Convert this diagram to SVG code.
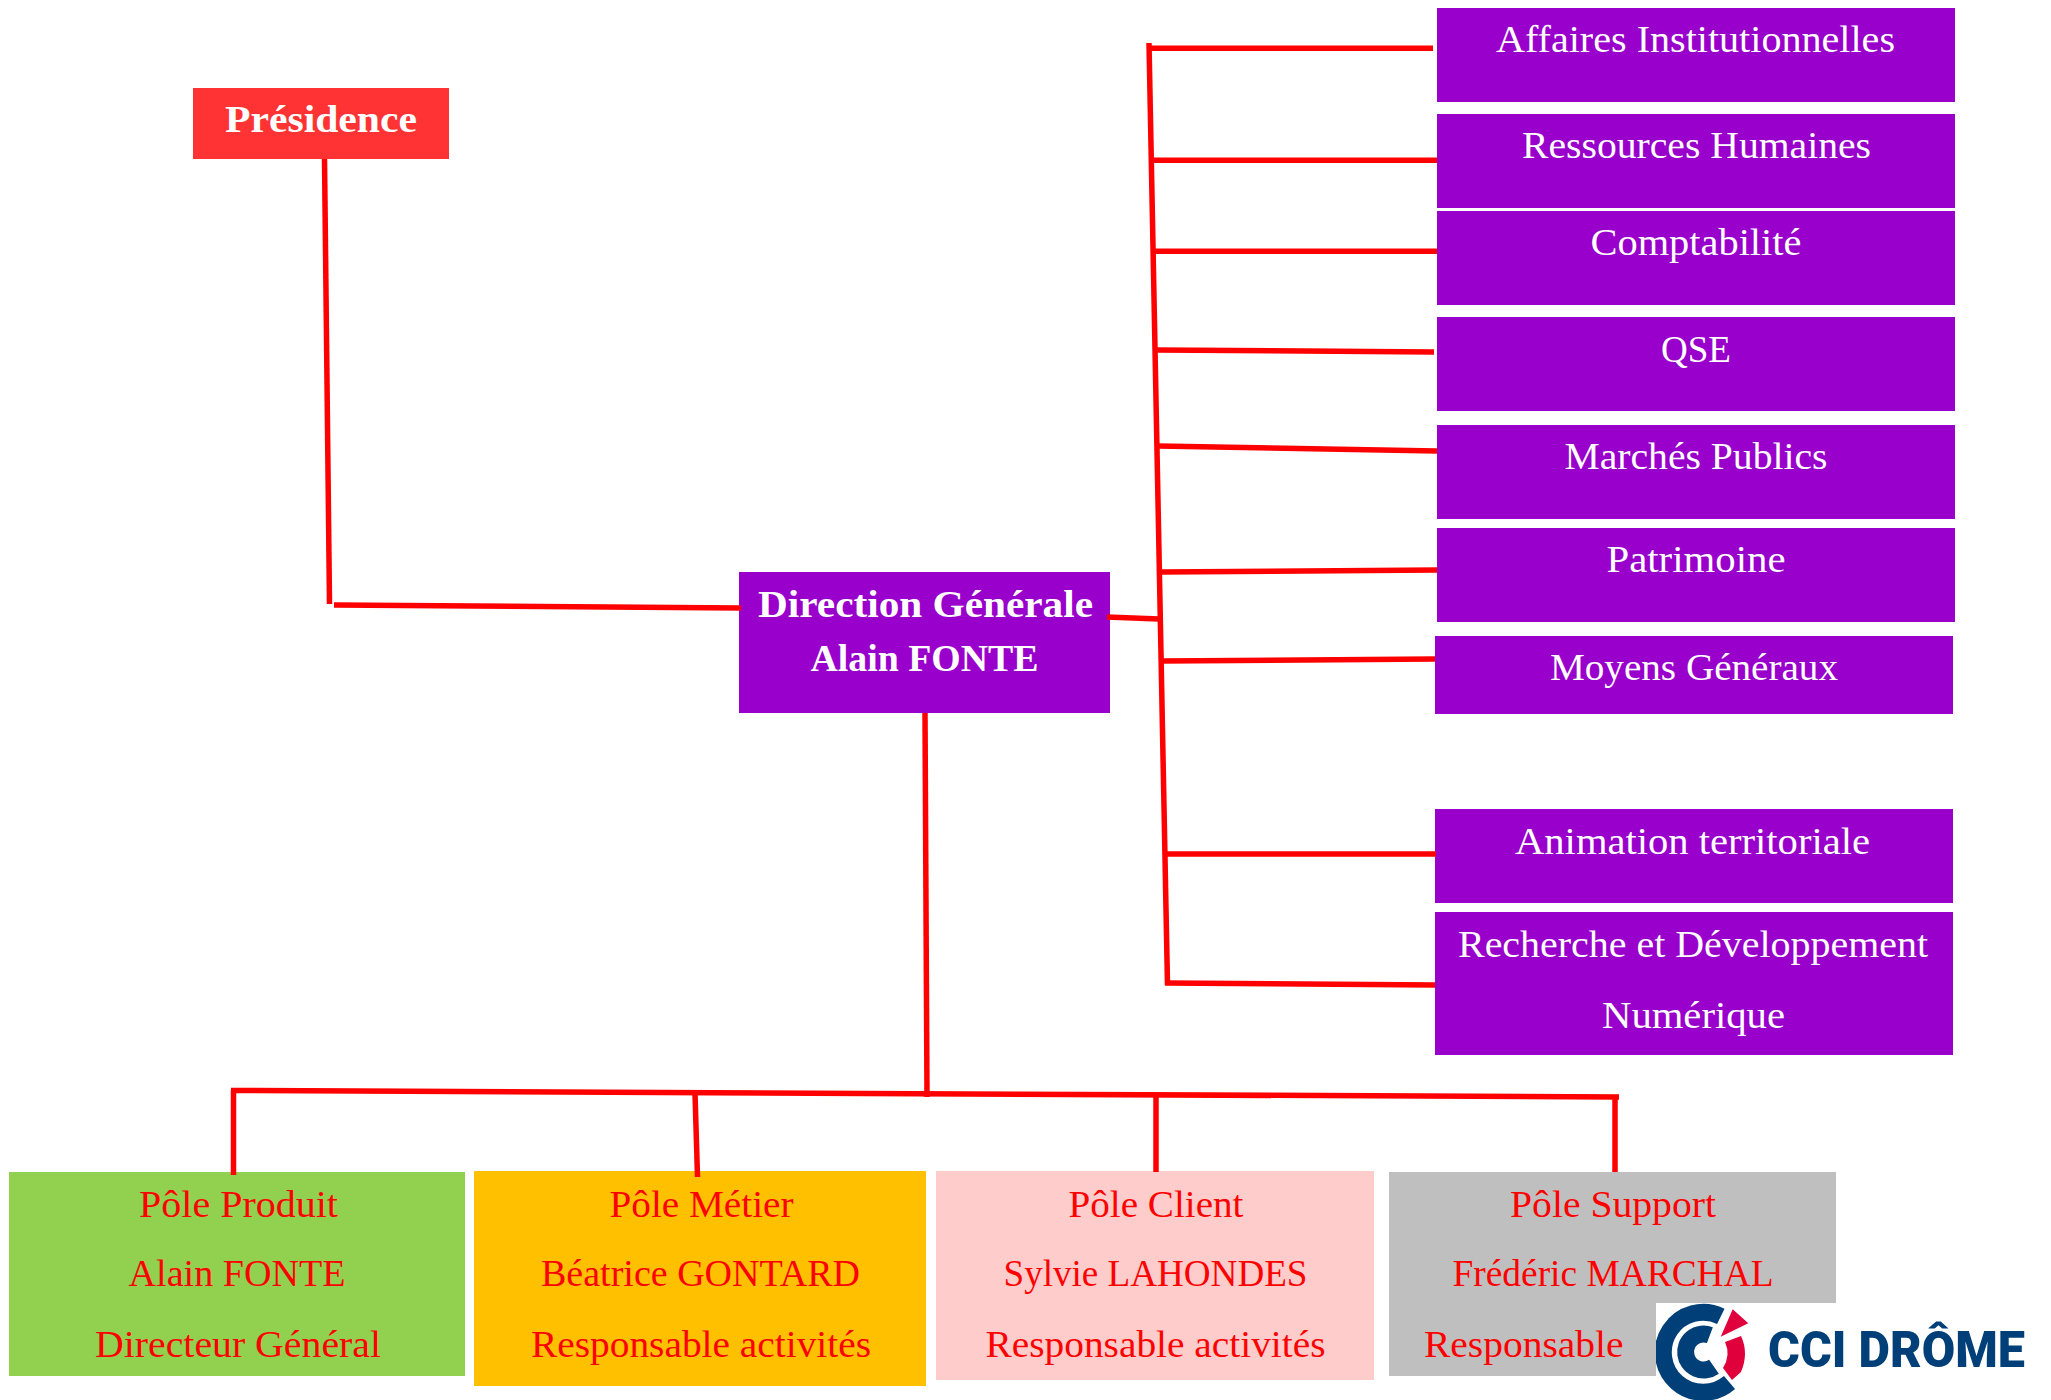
<svg xmlns="http://www.w3.org/2000/svg" width="2051" height="1400" viewBox="0 0 2051 1400">
<style>
text{font-family:"Liberation Serif","Times New Roman",serif;font-size:38px}
.w{fill:#fff}.r{fill:#f00}.b{font-weight:bold}
.p{fill:#90c}
.c line{stroke:#f00;stroke-width:5.5;fill:none}
</style>
<rect width="2051" height="1400" fill="#fff"/>
<g id="node-presidence"><rect x="193" y="88" width="256" height="71" fill="#f33"/><text class="w b" x="225" y="131.5" textLength="192" lengthAdjust="spacingAndGlyphs">Présidence</text></g>
<g id="node-direction"><rect class="p" x="739" y="572" width="371" height="141"/><text class="w b" x="758" y="617" textLength="335" lengthAdjust="spacingAndGlyphs">Direction Générale</text><text class="w b" x="810.5" y="671" textLength="228" lengthAdjust="spacingAndGlyphs">Alain FONTE</text></g>
<g id="node-affaires"><rect class="p" x="1437" y="8" width="518" height="94"/><text class="w" x="1496" y="52" textLength="399" lengthAdjust="spacingAndGlyphs">Affaires Institutionnelles</text></g>
<g id="node-rh"><rect class="p" x="1437" y="114" width="518" height="94"/><text class="w" x="1522" y="158" textLength="349" lengthAdjust="spacingAndGlyphs">Ressources Humaines</text></g>
<g id="node-compta"><rect class="p" x="1437" y="211" width="518" height="94"/><text class="w" x="1590.5" y="255" textLength="211" lengthAdjust="spacingAndGlyphs">Comptabilité</text></g>
<g id="node-qse"><rect class="p" x="1437" y="317" width="518" height="94"/><text class="w" x="1661" y="362" textLength="70" lengthAdjust="spacingAndGlyphs">QSE</text></g>
<g id="node-marches"><rect class="p" x="1437" y="425" width="518" height="94"/><text class="w" x="1564.5" y="469" textLength="263" lengthAdjust="spacingAndGlyphs">Marchés Publics</text></g>
<g id="node-patrimoine"><rect class="p" x="1437" y="528" width="518" height="94"/><text class="w" x="1606.5" y="572" textLength="179" lengthAdjust="spacingAndGlyphs">Patrimoine</text></g>
<g id="node-moyens"><rect class="p" x="1435" y="636" width="518" height="78"/><text class="w" x="1550" y="680" textLength="288" lengthAdjust="spacingAndGlyphs">Moyens Généraux</text></g>
<g id="node-animation"><rect class="p" x="1435" y="809" width="518" height="94"/><text class="w" x="1515" y="854" textLength="355" lengthAdjust="spacingAndGlyphs">Animation territoriale</text></g>
<g id="node-recherche"><rect class="p" x="1435" y="912" width="518" height="143"/><text class="w" x="1458" y="957" textLength="470" lengthAdjust="spacingAndGlyphs">Recherche et Développement</text><text class="w" x="1602" y="1028" textLength="183" lengthAdjust="spacingAndGlyphs">Numérique</text></g>
<g id="node-produit"><rect x="9" y="1172" width="456" height="204" fill="#92d050"/><text class="r" x="139" y="1217" textLength="199" lengthAdjust="spacingAndGlyphs">Pôle Produit</text><text class="r" x="128.6" y="1286" textLength="217" lengthAdjust="spacingAndGlyphs">Alain FONTE</text><text class="r" x="95" y="1357" textLength="286" lengthAdjust="spacingAndGlyphs">Directeur Général</text></g>
<g id="node-metier"><rect x="474" y="1171" width="452" height="215" fill="#ffc000"/><text class="r" x="609.5" y="1217" textLength="184" lengthAdjust="spacingAndGlyphs">Pôle Métier</text><text class="r" x="541" y="1286" textLength="319" lengthAdjust="spacingAndGlyphs">Béatrice GONTARD</text><text class="r" x="531" y="1357" textLength="340" lengthAdjust="spacingAndGlyphs">Responsable activités</text></g>
<g id="node-client"><rect x="936" y="1171" width="438" height="209" fill="#fcc"/><text class="r" x="1068.5" y="1217" textLength="175" lengthAdjust="spacingAndGlyphs">Pôle Client</text><text class="r" x="1003.5" y="1286" textLength="304" lengthAdjust="spacingAndGlyphs">Sylvie LAHONDES</text><text class="r" x="985.5" y="1357" textLength="340" lengthAdjust="spacingAndGlyphs">Responsable activités</text></g>
<g id="node-support"><rect x="1389" y="1172" width="447" height="204" fill="#bfbfbf"/><text class="r" x="1510" y="1217" textLength="206" lengthAdjust="spacingAndGlyphs">Pôle Support</text><text class="r" x="1452.5" y="1286" textLength="321" lengthAdjust="spacingAndGlyphs">Frédéric MARCHAL</text><text class="r" x="1424" y="1357" textLength="199.5" lengthAdjust="spacingAndGlyphs">Responsable</text></g>
<g id="logo">
<rect x="1656" y="1303" width="371" height="97" fill="#fff"/>
<clipPath id="lc"><rect x="1656" y="1303" width="371" height="97"/></clipPath>
<g clip-path="url(#lc)" fill="none" stroke="#003f77" stroke-width="17">
<path d="M1720.8 1316.3A40 40 0 1 0 1729.5 1382.5"/>
<path d="M1709.9 1335.1A18 18 0 1 0 1714 1366.7"/>
</g>
<path fill="#e0003c" d="M1732.7 1309.3L1748.3 1323.3L1720.7 1336.7ZM1725 1342L1741 1336Q1749 1353 1741 1372L1732 1380L1723 1368Q1731 1355 1725 1342Z"/>
<text x="1768" y="1367" textLength="257" lengthAdjust="spacingAndGlyphs" style="font-family:Roboto,'Liberation Sans',sans-serif;font-weight:900;font-size:50px" fill="#003f77">CCI DRÔME</text>
</g>
<g id="connectors" class="c">
<line x1="324.5" y1="159" x2="329.5" y2="604"/>
<line x1="334" y1="605" x2="741" y2="608"/>
<line x1="1149" y1="43" x2="1167.5" y2="985"/>
<line x1="1107" y1="617" x2="1159" y2="619"/>
<line x1="1149" y1="48.3" x2="1433" y2="48.3"/>
<line x1="1152" y1="160.3" x2="1437" y2="160.3"/>
<line x1="1154" y1="251.3" x2="1437" y2="251.3"/>
<line x1="1156" y1="350" x2="1434" y2="352"/>
<line x1="1158" y1="446" x2="1437" y2="451"/>
<line x1="1160" y1="572" x2="1437" y2="570"/>
<line x1="1162" y1="661" x2="1435" y2="659"/>
<line x1="1165" y1="854" x2="1436" y2="854"/>
<line x1="1165" y1="983" x2="1435" y2="985"/>
<line x1="925" y1="713" x2="927" y2="1097"/>
<line x1="231" y1="1090.5" x2="1619" y2="1097"/>
<line x1="233.5" y1="1090" x2="233.5" y2="1175"/>
<line x1="695" y1="1093" x2="697.5" y2="1177"/>
<line x1="1156" y1="1095" x2="1156" y2="1172"/>
<line x1="1615" y1="1097" x2="1615" y2="1172"/>
</g>
</svg>
